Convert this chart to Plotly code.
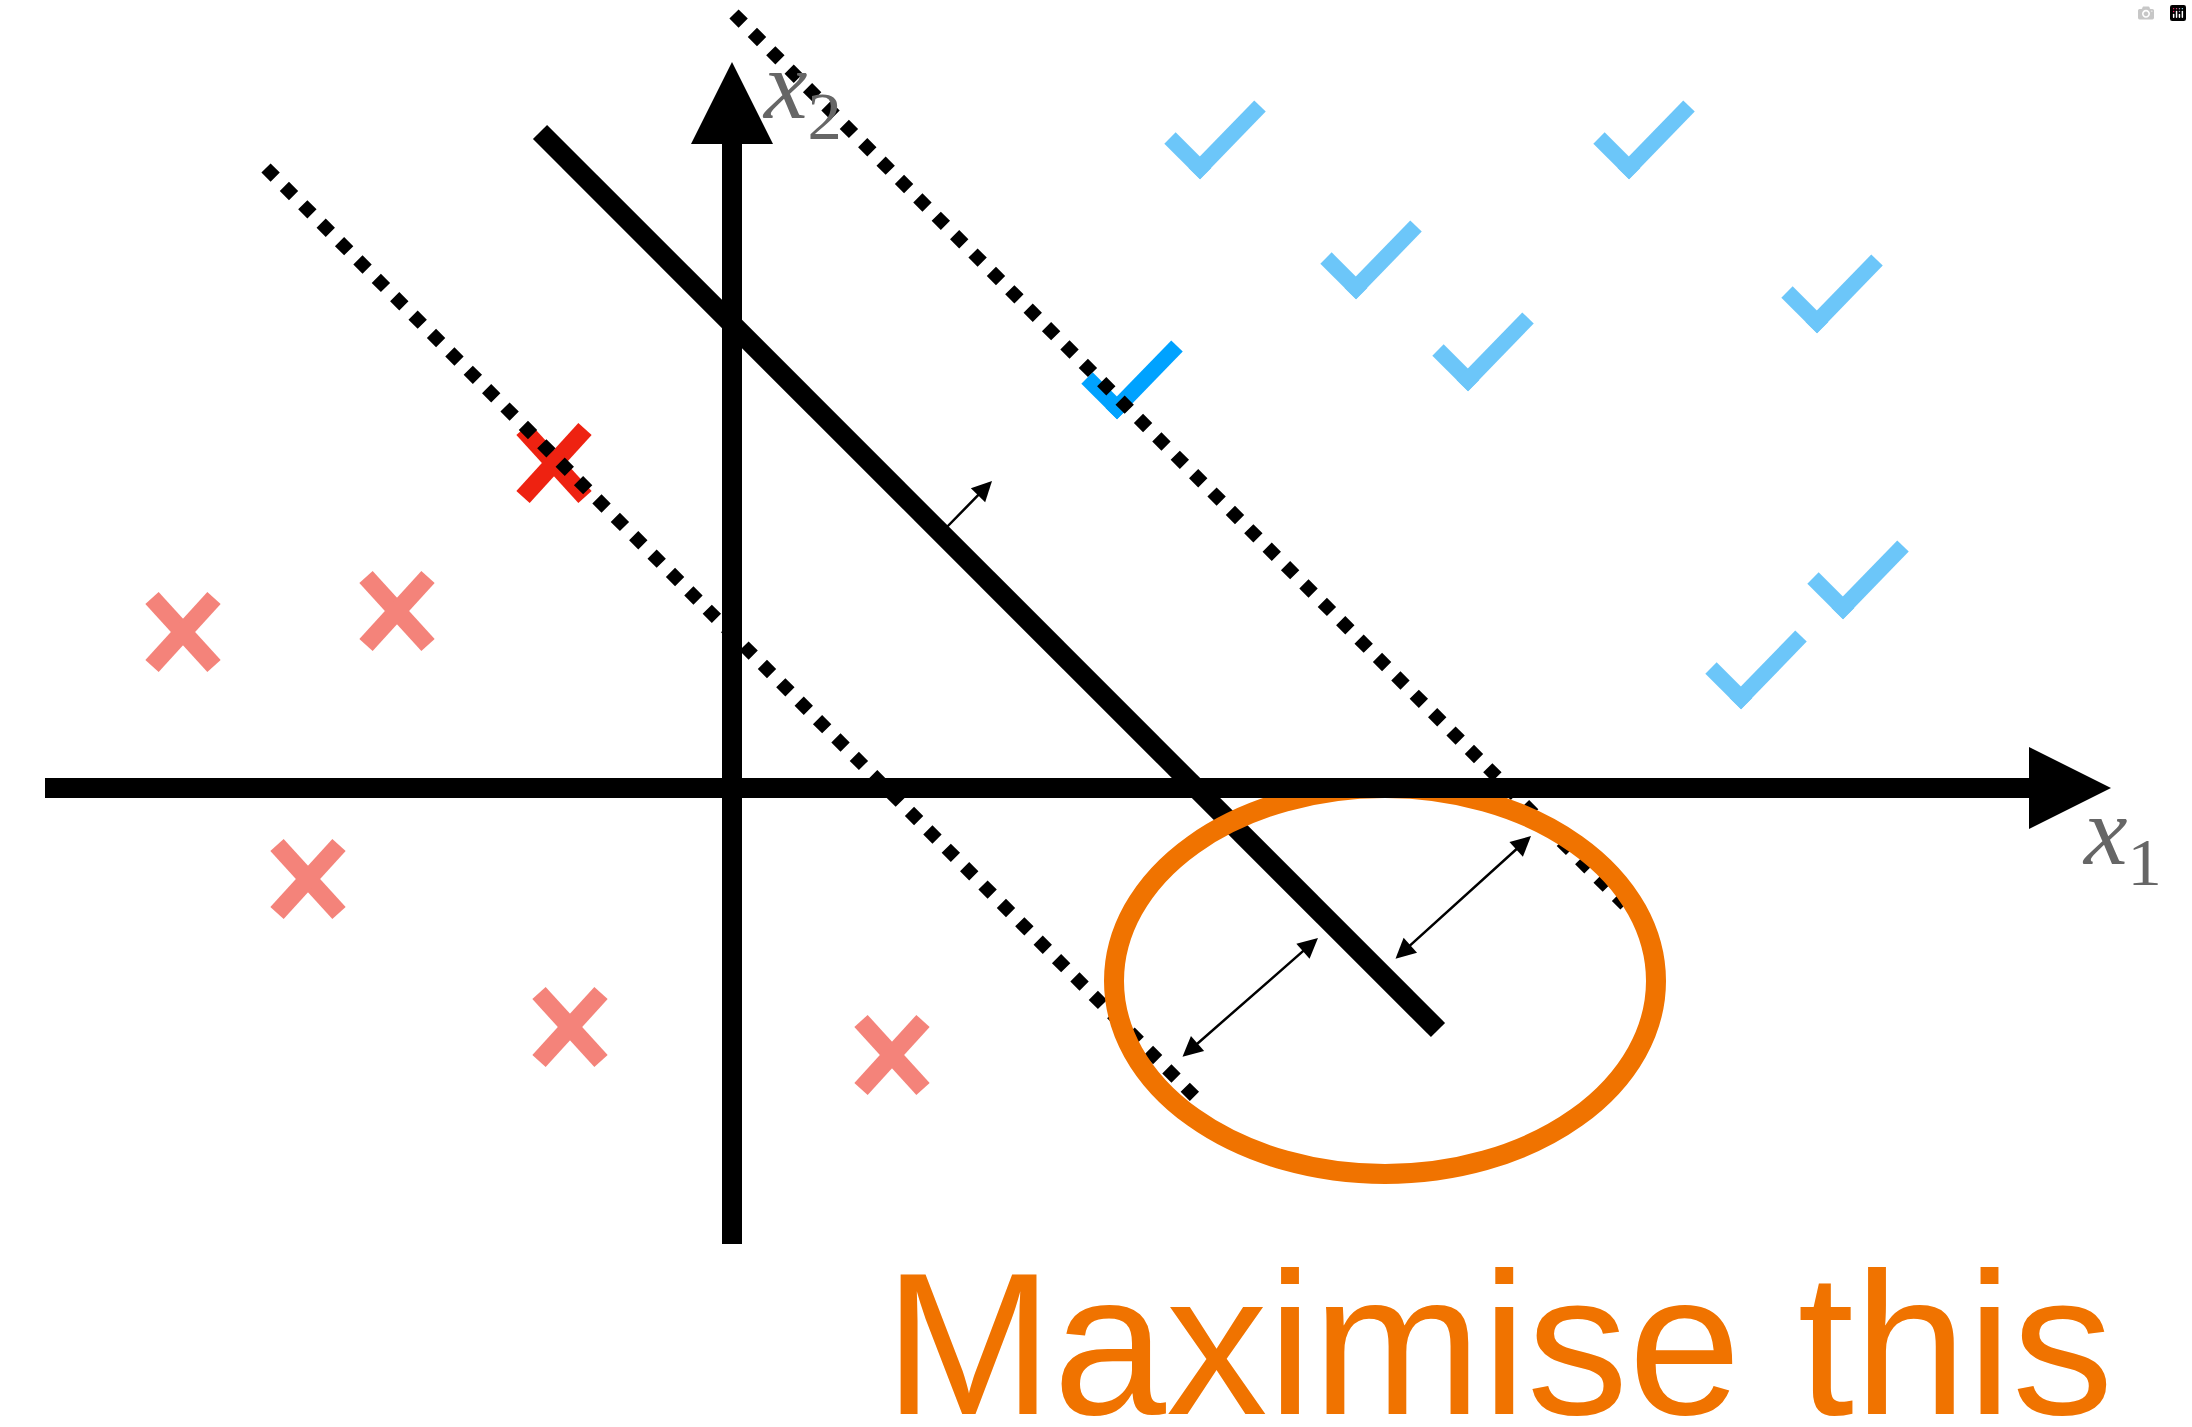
import plotly.graph_objects as go

# ---------------- data (diagram units, origin = axes crossing) ----------------
# class "-" samples (crosses) and its support vector
neg_x = [-5.49, -3.35, -4.24, -1.62, 1.60]
neg_y = [1.56, 1.77, -0.91, -2.39, -2.67]
neg_sv_x = [-1.78]
neg_sv_y = [3.25]

# class "+" samples (ticks) and its support vector
pos_x = [4.68, 8.97, 6.24, 7.36, 10.85, 11.11, 10.09]
pos_y = [6.20, 6.20, 5.00, 4.08, 4.66, 1.80, 0.90]
pos_sv_x = [3.85]
pos_sv_y = [3.80]

# separating hyperplane and margins: lines x + y = c drawn over [x_start, x_end]
hyper_c, hyper_x = 4.64, [-1.92, 7.06]
upper_c, upper_x = 7.76, [0.02, 8.93]
lower_c, lower_x = 1.54, [-4.66, 4.63]

# coordinate axes: start, arrow tip
x_axis_ext = [-6.87, 13.79]
y_axis_ext = [-4.56, 7.26]
arrow_len, arrow_half = 0.82, 0.41

# normal vector and margin arrows: [x_from, y_from, x_to, y_to]
normal_vec = [2.12, 2.58, 2.60, 3.07]
margin_arrows = [[4.49, -2.70, 5.86, -1.50], [6.62, -1.72, 7.99, -0.48]]

# highlight ellipse
ell_c = [6.53, -1.93]
ell_r = [2.71, 1.93]

caption = "Maximise this"
caption_pos = [1.50, -5.55]
x1_label_pos = [13.48, -0.50]
x2_label_pos = [0.28, 6.96]

# ---------------- colours / styles ----------------
C_NEG, C_NEG_SV = "#F4837A", "#EE2211"
C_POS, C_POS_SV = "#6CC6F9", "#00A2FF"
C_ORANGE = "#F07300"
C_LABEL = "#666666"


def cross_path(xs, ys, hx=0.31, hy=0.34):
    px, py = [], []
    for x, y in zip(xs, ys):
        px += [x - hx, x + hx, None, x - hx, x + hx, None]
        py += [y + hy, y - hy, None, y - hy, y + hy, None]
    return px, py


def tick_path(xs, ys, w=0.16):
    e = w / 2 / 2 ** 0.5
    px, py = [], []
    for x, y in zip(xs, ys):
        px += [x + e, x - 0.30, None, x - e, x + 0.60, None]
        py += [y - e, y + 0.30, None, y - e, y + 0.62, None]
    return px, py


fig = go.Figure()

for xs, ys, col in [(neg_x, neg_y, C_NEG), (neg_sv_x, neg_sv_y, C_NEG_SV)]:
    px, py = cross_path(xs, ys)
    fig.add_trace(go.Scatter(x=px, y=py, mode="lines", line=dict(color=col, width=18),
                             hoverinfo="skip", showlegend=False))

for xs, ys, col in [(pos_x, pos_y, C_POS), (pos_sv_x, pos_sv_y, C_POS_SV)]:
    px, py = tick_path(xs, ys)
    fig.add_trace(go.Scatter(x=px, y=py, mode="lines", line=dict(color=col, width=16),
                             hoverinfo="skip", showlegend=False))

for c, xr, dash, w in [(upper_c, upper_x, "dot", 13), (lower_c, lower_x, "dot", 13),
                       (hyper_c, hyper_x, "solid", 20)]:
    fig.add_trace(go.Scatter(x=xr, y=[c - v for v in xr], mode="lines",
                             line=dict(color="black", width=w, dash=dash),
                             hoverinfo="skip", showlegend=False))

# ellipse (above lines)
fig.add_shape(type="circle", xref="x", yref="y",
              x0=ell_c[0] - ell_r[0], x1=ell_c[0] + ell_r[0],
              y0=ell_c[1] - ell_r[1], y1=ell_c[1] + ell_r[1],
              line=dict(color=C_ORANGE, width=20), layer="above")

# axes (above ellipse)
fig.add_shape(type="line", xref="x", yref="y", x0=x_axis_ext[0], y0=0,
              x1=x_axis_ext[1] - arrow_len + 0.05, y1=0, line=dict(color="black", width=20))
fig.add_shape(type="line", xref="x", yref="y", x0=0, y0=y_axis_ext[0],
              x1=0, y1=y_axis_ext[1] - arrow_len + 0.05, line=dict(color="black", width=20))
tx = x_axis_ext[1]
fig.add_shape(type="path", xref="x", yref="y",
              path=f"M {tx - arrow_len},{arrow_half} L {tx},0 L {tx - arrow_len},{-arrow_half} Z",
              fillcolor="black", line=dict(width=0))
ty = y_axis_ext[1]
fig.add_shape(type="path", xref="x", yref="y",
              path=f"M {-arrow_half},{ty - arrow_len} L 0,{ty} L {arrow_half},{ty - arrow_len} Z",
              fillcolor="black", line=dict(width=0))

# arrows
fig.add_annotation(x=normal_vec[2], y=normal_vec[3], ax=normal_vec[0], ay=normal_vec[1],
                   xref="x", yref="y", axref="x", ayref="y", text="", showarrow=True,
                   arrowhead=2, arrowsize=1.6, arrowwidth=2.5, arrowcolor="black", standoff=0)
for a in margin_arrows:
    fig.add_annotation(x=a[2], y=a[3], ax=a[0], ay=a[1],
                       xref="x", yref="y", axref="x", ayref="y", text="", showarrow=True,
                       arrowhead=2, startarrowhead=2, arrowside="end+start",
                       arrowsize=1.6, startarrowsize=1.6, arrowwidth=2.5,
                       arrowcolor="black", standoff=0, startstandoff=0)

# labels
for pos, lab in [(x1_label_pos, "<i>x</i><sub>1</sub>"), (x2_label_pos, "<i>x</i><sub>2</sub>")]:
    fig.add_annotation(x=pos[0], y=pos[1], xref="x", yref="y", text=lab, showarrow=False,
                       xanchor="left", yanchor="middle",
                       font=dict(family="Liberation Serif", size=98, color=C_LABEL))

fig.add_annotation(x=caption_pos[0], y=caption_pos[1], xref="x", yref="y", text=caption,
                   showarrow=False, xanchor="left", yanchor="middle",
                   font=dict(family="Liberation Sans", size=203, color=C_ORANGE))

fig.update_layout(
    width=2192, height=1427, autosize=False,
    margin=dict(l=0, r=0, t=0, b=0, pad=0),
    paper_bgcolor="white", plot_bgcolor="white",
    xaxis=dict(range=[-7.32, 14.60], visible=False, fixedrange=True),
    yaxis=dict(range=[-6.39, 7.88], visible=False, fixedrange=True),
    showlegend=False,
)

fig.write_html("out.html", post_script="document.body.style.margin='0';document.body.style.overflow='hidden';")
